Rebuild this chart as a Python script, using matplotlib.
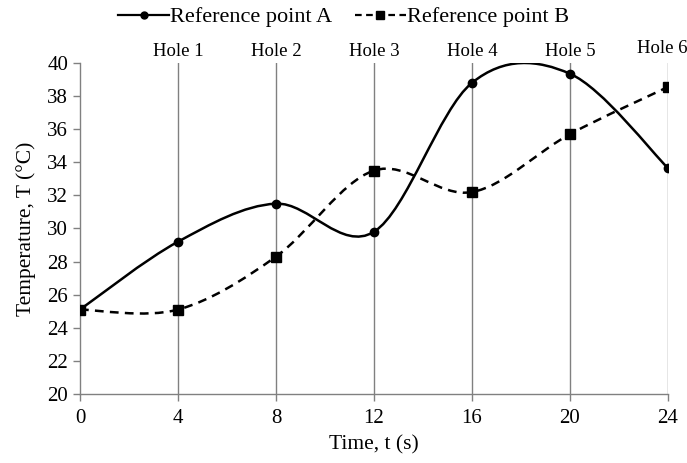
import numpy as np
import matplotlib.pyplot as plt
from matplotlib.path import Path
from matplotlib.patches import PathPatch
from matplotlib.lines import Line2D

time_s = [0, 4, 8, 12, 16, 20, 24]
temp_a = [25.1, 29.2, 31.5, 29.8, 38.8, 39.35, 33.65]
temp_b = [25.1, 25.1, 28.3, 33.5, 32.2, 35.7, 38.55]
hole_x = [4, 8, 12, 16, 20, 24]
hole_labels = ["Hole 1", "Hole 2", "Hole 3", "Hole 4", "Hole 5", "Hole 6"]

plt.rcParams['font.family'] = ['Liberation Serif', 'DejaVu Serif']
axis_gray = '#808080'


def smooth_path(x, y):
    """Excel-like smoothed line as cubic bezier path"""
    pts = np.column_stack([x, y]).astype(float)
    n = len(pts)
    verts = [pts[0]]
    codes = [Path.MOVETO]
    for i in range(n - 1):
        p_prev = pts[i - 1] if i > 0 else pts[i]
        p_next2 = pts[i + 2] if i + 2 < n else pts[i + 1]
        c1 = pts[i] + (pts[i + 1] - p_prev) / 6
        c2 = pts[i + 1] - (p_next2 - pts[i]) / 6
        verts += [c1, c2, pts[i + 1]]
        codes += [Path.CURVE4] * 3
    return Path(verts, codes)


fig = plt.figure(figsize=(6.87, 4.63), dpi=100)
ax = fig.add_axes([0.1164, 0.149, 0.8559, 0.715])

for hx, lab in zip(hole_x, hole_labels):
    ax.axvline(hx, color=axis_gray, lw=1.0, zorder=1)
    # last label sits a bit left and higher so it stays inside the figure
    if hx == 24:
        ax.text(hx - 0.22, 40.35, lab, ha='center', va='bottom', fontsize=13.5)
    else:
        ax.text(hx, 40.2, lab, ha='center', va='bottom', fontsize=13.5)

ax.add_patch(PathPatch(smooth_path(time_s, temp_a), fill=False, color='black', lw=1.8, zorder=3))
ax.add_patch(PathPatch(smooth_path(time_s, temp_b), fill=False, color='black', lw=1.8,
                       linestyle=(0, (3.5, 2.5)), zorder=3))
ax.plot(time_s, temp_a, 'o', color='black', ms=6, zorder=4)
ax.plot(time_s, temp_b, 's', color='black', ms=6.5, zorder=4)

ax.set_xlim(0, 24)
ax.set_ylim(20, 40)
ax.set_xticks(range(0, 25, 4))
ax.set_yticks(range(20, 41, 2))
ax.tick_params(axis='both', labelsize=15, color=axis_gray, length=5, width=1, direction='out')
ax.tick_params(axis='x', pad=6)
for side in ['top', 'right']:
    ax.spines[side].set_visible(False)
for side in ['left', 'bottom']:
    ax.spines[side].set_color(axis_gray)
    ax.spines[side].set_linewidth(1.0)
ax.set_xlabel("Time, t (s)", fontsize=15.5, labelpad=5)
ax.set_ylabel("Temperature, T (°C)", fontsize=15.5, labelpad=8)

handles = [Line2D([], [], color='black', lw=1.6, marker='o', ms=5),
           Line2D([], [], color='black', lw=1.6, marker='s', ms=5.5, linestyle=(0, (3, 2)))]
fig.legend(handles, ["Reference point A", "Reference point B"], loc='center',
           bbox_to_anchor=(0.5, 0.963), ncol=2, frameon=False, fontsize=16,
           handlelength=2.3, handletextpad=0.05, columnspacing=1.0, borderaxespad=0)

plt.savefig("out.png", dpi=100)
